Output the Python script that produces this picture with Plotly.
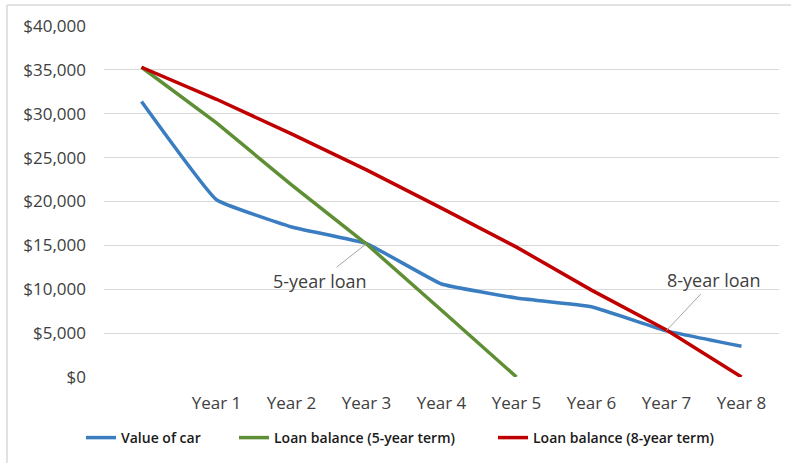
import plotly.graph_objects as go

categories = ["", "Year 1", "Year 2", "Year 3", "Year 4", "Year 5", "Year 6", "Year 7", "Year 8"]
value_of_car = [31400, 20200, 17100, 15200, 10600, 9000, 8000, 5250, 3500]
loan_5yr = [35300, 28950, 21900, 15150, 7600, 0, None, None, None]
loan_8yr = [35300, 31650, 27700, 23600, 19250, 14800, 9900, 5350, 0]
y_ticks = [0, 5000, 10000, 15000, 20000, 25000, 30000, 35000, 40000]

x = list(range(len(categories)))
font_fam = "'Open Sans', Lato, sans-serif"

fig = go.Figure()
fig.add_trace(go.Scatter(x=x, y=value_of_car, mode="lines", name="Value of car", legend="legend",
                         line=dict(color="#3a7dc1", width=3.5, shape="spline", smoothing=0.3)))
fig.add_trace(go.Scatter(x=x, y=loan_5yr, mode="lines", name="Loan balance (5-year term)", legend="legend2",
                         line=dict(color="#5f8f35", width=3.5)))
fig.add_trace(go.Scatter(x=x, y=loan_8yr, mode="lines", name="Loan balance (8-year term)", legend="legend3",
                         line=dict(color="#c00000", width=3.5)))

def leg(px):
    return dict(orientation="h", xref="container", yref="container",
                x=(px - 7) / 791, xanchor="left", y=0.054, yanchor="middle",
                font=dict(size=14, color="#1a1a1a", family=font_fam, weight=600),
                itemwidth=30, bgcolor="rgba(0,0,0,0)")

fig.update_layout(
    width=791, height=463,
    margin=dict(l=104, r=12, t=26, b=86),
    paper_bgcolor="white", plot_bgcolor="white",
    font=dict(family=font_fam, color="#404040"),
    showlegend=True,
    legend=leg(88), legend2=leg(241), legend3=leg(500),
    xaxis=dict(range=[-0.5, len(categories) - 0.5], tickvals=x, ticktext=categories,
               showgrid=False, zeroline=False, showline=False, ticks="",
               ticklabelstandoff=14, automargin=False,
               tickfont=dict(size=17, color="#404040"), fixedrange=True),
    yaxis=dict(range=[0, 40000], tickvals=y_ticks, tickformat="$,.0f",
               showgrid=True, gridcolor="#d9d9d9", gridwidth=1, zeroline=False,
               showline=False, ticks="", ticklabelstandoff=17, automargin=False,
               tickfont=dict(size=17, color="#404040")),
    annotations=[
        dict(x=3, y=15200, xref="x", yref="y", text="5-year loan", showarrow=True,
             arrowhead=0, arrowwidth=1, arrowcolor="#a6a6a6", ax=-47, ay=37,
             font=dict(size=18, color="#404040")),
        dict(x=7, y=5300, xref="x", yref="y", text="8-year loan", showarrow=True,
             arrowhead=0, arrowwidth=1, arrowcolor="#a6a6a6", ax=47, ay=-50,
             font=dict(size=18, color="#404040")),
    ],
    shapes=[
        dict(type="line", xref="paper", yref="paper",
             x0=(7 - 104) / 675, x1=(791 - 104) / 675,
             y0=(377 - 5) / 351, y1=(377 - 5) / 351,
             line=dict(color="#d9d9d9", width=1.5)),
        dict(type="line", xref="paper", yref="paper",
             x0=(7 - 104) / 675, x1=(7 - 104) / 675,
             y0=(377 - 5) / 351, y1=(377 - 470) / 351,
             line=dict(color="#d9d9d9", width=1.5)),
    ],
)

fig.write_html("out.html")
